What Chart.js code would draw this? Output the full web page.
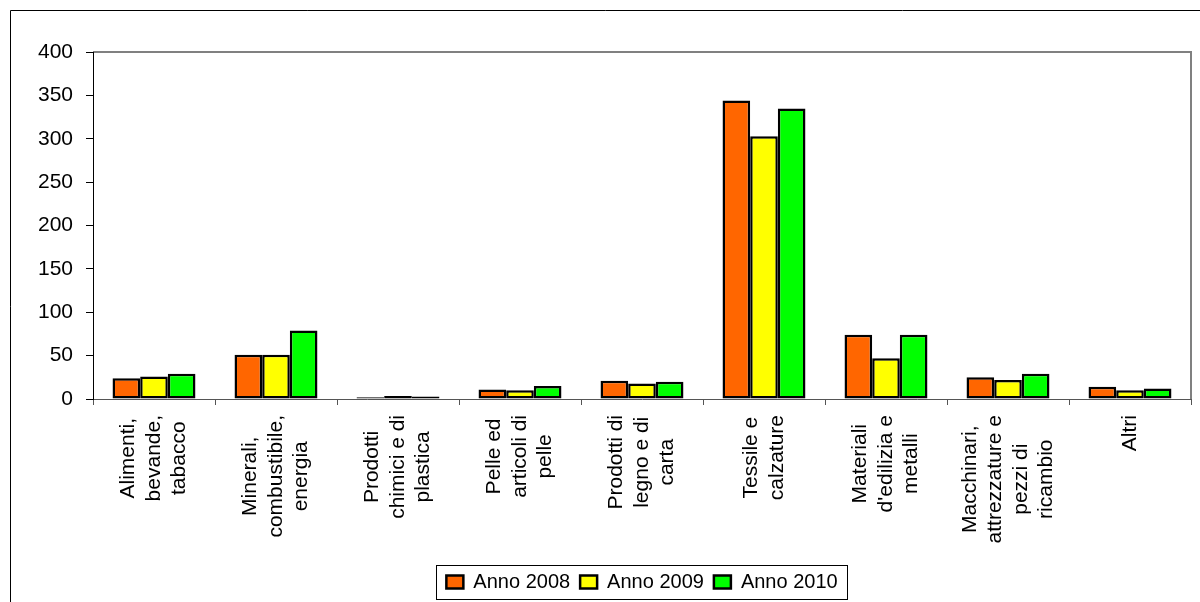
<!DOCTYPE html>
<html>
<head>
<meta charset="utf-8">
<script src="https://cdn.jsdelivr.net/npm/chart.js@4.4.0/dist/chart.umd.min.js"></script>
<style>
  html, body { margin: 0; padding: 0; background: #fff; }
  #wrap { width: 1200px; height: 602px; }
</style>
</head>
<body>
<div id="wrap"><canvas id="chart" width="1200" height="602"></canvas></div>
<script>
// categories (one array of lines per label, as wrapped in the original)
var categories = [
  ["Alimenti,", "bevande,", "tabacco"],
  ["Minerali,", "combustibile,", "energia"],
  ["Prodotti", "chimici e di", "plastica"],
  ["Pelle ed", "articoli di", "pelle"],
  ["Prodotti di", "legno e di", "carta"],
  ["Tessile e", "calzature"],
  ["Materiali", "d'edilizia e", "metalli"],
  ["Macchinari,", "attrezzature e", "pezzi di", "ricambio"],
  ["Altri"]
];
var anno2008 = [24, 51, 2, 11, 21, 344, 74, 25, 14];
var anno2009 = [26, 51, 3.5, 10, 18, 303, 47, 22, 10];
var anno2010 = [29, 79, 3, 15, 20, 335, 74, 29, 12];
var yTicks = [0, 50, 100, 150, 200, 250, 300, 350, 400];

var FONT = '"Liberation Sans", Arial, sans-serif';

var framePlugin = {
  id: 'frame',
  beforeDraw: function(chart) {
    var ctx = chart.ctx, a = chart.chartArea;
    ctx.save();
    ctx.fillStyle = '#fff';
    ctx.fillRect(0, 0, chart.width, chart.height);
    // outer chart border
    ctx.strokeStyle = '#000';
    ctx.lineWidth = 1;
    ctx.beginPath();
    ctx.moveTo(10.5, chart.height);
    ctx.lineTo(10.5, 10.5);
    ctx.lineTo(chart.width, 10.5);
    ctx.stroke();
    // plot area border (top/right)
    ctx.strokeStyle = '#808080';
    ctx.lineWidth = 2;
    ctx.beginPath();
    ctx.moveTo(a.left, a.top);
    ctx.lineTo(a.right, a.top);
    ctx.lineTo(a.right, a.bottom);
    ctx.stroke();
    ctx.restore();
  },
  afterDraw: function(chart) {
    var ctx = chart.ctx, xs = chart.scales.x;
    ctx.save();
    // rotated, centred multi-line category labels
    ctx.font = '21px ' + FONT;
    ctx.fillStyle = '#000';
    ctx.textAlign = 'center';
    ctx.textBaseline = 'middle';
    categories.forEach(function(lines, i) {
      var cx = xs.getPixelForValue(i);
      var w = Math.max.apply(null, lines.map(function(l) { return ctx.measureText(l).width; }));
      ctx.save();
      ctx.translate(cx, xs.top + 16);
      ctx.rotate(-Math.PI / 2);
      lines.forEach(function(line, j) {
        ctx.fillText(line, -w / 2, (j - (lines.length - 1) / 2) * 25.5);
      });
      ctx.restore();
    });
    // legend frame
    var hb = chart.legend.legendHitBoxes;
    if (hb && hb.length) {
      var first = hb[0], last = hb[hb.length - 1];
      var left = first.left - 10, right = last.left + last.width + 10;
      var cy = first.top + first.height / 2;
      ctx.strokeStyle = '#000';
      ctx.lineWidth = 1;
      ctx.strokeRect(Math.round(left) + 0.5, Math.round(cy - 17) + 0.5, Math.round(right - left), 34);
    }
    ctx.restore();
  }
};

new Chart(document.getElementById('chart'), {
  type: 'bar',
  data: {
    labels: categories.map(function(c) { return c.join(' '); }),
    datasets: [
      { label: 'Anno 2008', data: anno2008, backgroundColor: '#FF6600', borderColor: '#000', borderWidth: 2.5, borderSkipped: false },
      { label: 'Anno 2009', data: anno2009, backgroundColor: '#FFFF00', borderColor: '#000', borderWidth: 2.5, borderSkipped: false },
      { label: 'Anno 2010', data: anno2010, backgroundColor: '#00FF00', borderColor: '#000', borderWidth: 2.5, borderSkipped: false }
    ]
  },
  options: {
    responsive: false,
    animation: false,
    devicePixelRatio: 1,
    layout: { padding: { top: 52, right: 9, bottom: 0, left: 0 } },
    datasets: { bar: { barPercentage: 1, categoryPercentage: 0.68 } },
    plugins: {
      tooltip: { enabled: false },
      legend: {
        position: 'bottom',
        fullSize: false,
        labels: {
          color: '#000',
          font: { family: FONT, size: 20 },
          boxWidth: 17,
          boxHeight: 13,
          padding: 10
        }
      }
    },
    scales: {
      x: {
        grid: { display: true, drawOnChartArea: false, tickLength: 6, color: '#555', offset: true },
        border: { color: '#555', width: 1 },
        ticks: { display: false },
        afterFit: function(s) { s.height = 163; }
      },
      y: {
        min: 0,
        max: 400,
        afterBuildTicks: function(s) { s.ticks = yTicks.map(function(v) { return { value: v }; }); },
        grid: { display: true, drawOnChartArea: false, tickLength: 7, color: '#000' },
        border: { color: '#000', width: 1 },
        ticks: { color: '#000', padding: 13, font: { family: FONT, size: 21 } },
        afterFit: function(s) { s.width = 93; }
      }
    }
  },
  plugins: [framePlugin]
});
</script>
</body>
</html>
